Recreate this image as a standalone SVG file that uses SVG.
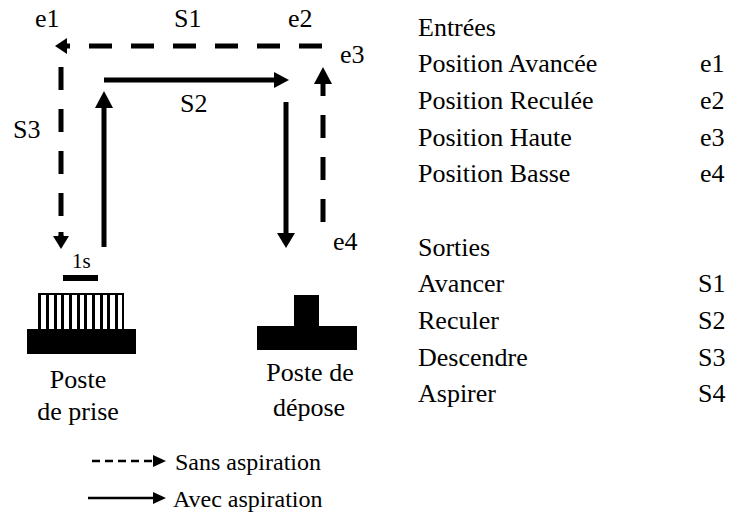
<svg xmlns="http://www.w3.org/2000/svg" width="731" height="515" viewBox="0 0 731 515">
  <style>
    text { font-family: "Liberation Serif", "Times New Roman", serif; font-size: 26px; fill: #000; }
    .lg { font-size: 24px; }
    .small { font-size: 21px; }
    .mid { text-anchor: middle; }
    .dash { fill: none; stroke: #000; stroke-width: 5; stroke-dasharray: 23 19; }
    .solid { fill: none; stroke: #000; stroke-width: 5; }
    .thin { fill: none; stroke: #000; stroke-width: 2.5; }
    .thindash { fill: none; stroke: #000; stroke-width: 2.5; stroke-dasharray: 8 5; }
    .head { fill: #000; }
  </style>
  <rect width="731" height="515" fill="#fff"/>

  <!-- movement cycle -->
  <g id="connectors">
    <!-- S1 : avancer (dashed, leftwards) -->
    <path class="dash" d="M322,46 H70"/>
    <path class="solid" d="M70,46 H64"/>
    <polygon class="head" points="55,46 67,38 67,54"/>
    <!-- S3 : descendre (dashed, downwards) -->
    <path class="dash" d="M61,67 V236"/>
    <path class="solid" d="M61,232 V238"/>
    <polygon class="head" points="61,249 53,236 69,236"/>
    <!-- ascent with part (solid, upwards) -->
    <path class="solid" d="M104,247 V104"/>
    <polygon class="head" points="104,91 95,108 113,108"/>
    <!-- S2 : reculer (solid, rightwards) -->
    <path class="solid" d="M104,80 H276"/>
    <polygon class="head" points="289,80 274,72 274,88"/>
    <!-- descent at drop station (solid, downwards) -->
    <path class="solid" d="M286,102 V236"/>
    <polygon class="head" points="286,248 277,233 295,233"/>
    <!-- return up (dashed, upwards) -->
    <path class="dash" d="M323,222 V96"/>
    <path class="solid" d="M323,96 V80"/>
    <polygon class="head" points="323,67 314,84 332,84"/>
  </g>

  <!-- cycle labels -->
  <g id="labels">
    <text x="35" y="27">e1</text>
    <text x="174" y="27">S1</text>
    <text x="288" y="27">e2</text>
    <text x="340" y="63">e3</text>
    <text x="180" y="112">S2</text>
    <text x="13" y="138">S3</text>
    <text x="333" y="250">e4</text>
  </g>

  <!-- pick station with suction grid -->
  <g id="poste-prise">
    <text class="small" x="72" y="268">1s</text>
    <rect x="63" y="275" width="35" height="6" fill="#000"/>
    <rect x="39" y="294" width="84" height="36" fill="#fff" stroke="#000" stroke-width="2"/>
    <g fill="#000">
      <rect x="38" y="293" width="3" height="37"/>
      <rect x="46" y="293" width="3" height="37"/>
      <rect x="54" y="293" width="3" height="37"/>
      <rect x="61" y="293" width="3" height="37"/>
      <rect x="69" y="293" width="3" height="37"/>
      <rect x="77" y="293" width="3" height="37"/>
      <rect x="84" y="293" width="3" height="37"/>
      <rect x="92" y="293" width="3" height="37"/>
      <rect x="100" y="293" width="3" height="37"/>
      <rect x="107" y="293" width="3" height="37"/>
      <rect x="115" y="293" width="3" height="37"/>
    </g>
    <rect x="27" y="329" width="109" height="25" fill="#000"/>
    <text class="mid" x="78" y="388">Poste</text>
    <text class="mid" x="78" y="420">de prise</text>
  </g>

  <!-- drop station -->
  <g id="poste-depose">
    <rect x="294" y="295" width="25" height="32" fill="#000"/>
    <rect x="257" y="326" width="100" height="24" fill="#000"/>
    <text class="mid" x="310" y="381">Poste de</text>
    <text class="mid" x="309" y="416">dépose</text>
  </g>

  <!-- legend -->
  <g id="legende">
    <path class="thindash" d="M92,461 H154"/>
    <polygon class="head" points="166,461 153,455 153,467"/>
    <text class="lg" x="175" y="470">Sans aspiration</text>
    <path class="thin" d="M88,498 H155"/>
    <polygon class="head" points="166,498 153,492 153,504"/>
    <text class="lg" x="173" y="507">Avec aspiration</text>
  </g>

  <!-- inputs / outputs table -->
  <g id="entrees">
    <text x="418" y="36">Entrées</text>
    <text x="418" y="72">Position Avancée</text>
    <text x="700" y="72">e1</text>
    <text x="418" y="109">Position Reculée</text>
    <text x="700" y="109">e2</text>
    <text x="418" y="146">Position Haute</text>
    <text x="700" y="146">e3</text>
    <text x="418" y="182">Position Basse</text>
    <text x="700" y="182">e4</text>
  </g>
  <g id="sorties">
    <text x="418" y="256">Sorties</text>
    <text x="418" y="292">Avancer</text>
    <text x="698" y="292">S1</text>
    <text x="418" y="329">Reculer</text>
    <text x="698" y="329">S2</text>
    <text x="418" y="366">Descendre</text>
    <text x="698" y="366">S3</text>
    <text x="418" y="402">Aspirer</text>
    <text x="698" y="402">S4</text>
  </g>
</svg>
